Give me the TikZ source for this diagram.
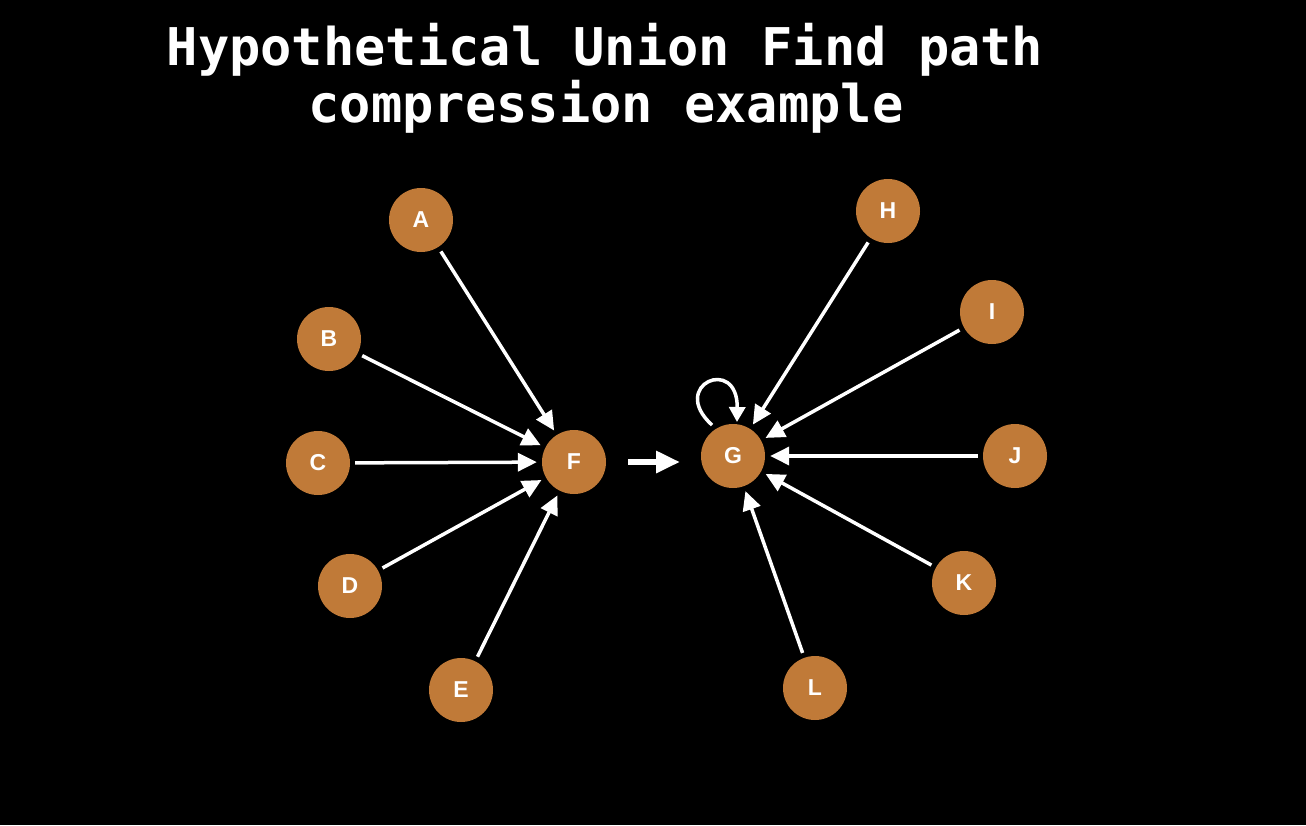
\documentclass[tikz,border=0pt]{standalone}
\usepackage{fontspec}
\setmainfont{Liberation Sans}
\newfontfamily\titlefont{DejaVu Sans Mono}
\usetikzlibrary{arrows.meta}
\definecolor{nodeor}{HTML}{C07A38}
\tikzset{
  vtx/.style={circle, fill=nodeor, minimum size=64pt, inner sep=0pt,
    text=white, font=\fontsize{23}{23}\selectfont\bfseries},
  arr/.style={draw=white, line width=3.5pt,
    -{Triangle[length=19pt,width=18pt]}, shorten <=5pt, shorten >=5pt},
  looparr/.style={draw=white, line width=3.5pt,
    -{Triangle[length=15pt,width=16pt]}},
  bigarr/.style={draw=white, line width=6.5pt,
    -{Triangle[length=24pt,width=21pt]}},
  ttl/.style={text=white, anchor=base, inner sep=0pt,
    font=\titlefont\fontsize{52}{52}\selectfont\bfseries}
}
\begin{document}
\begin{tikzpicture}[x=1pt,y=-1pt]
\fill[black] (0,0) rectangle (1306,825);
\useasboundingbox (0,0) rectangle (1306,825);
\node[ttl] (t1) at (605,65) {Hypothetical Union Find path};
\node[ttl] (t2) at (606,122) {compression example};
\node[vtx] (A) at (421,220) {A};
\node[vtx] (B) at (329,339) {B};
\node[vtx] (C) at (318,463) {C};
\node[vtx] (D) at (350,586) {D};
\node[vtx] (E) at (461,690) {E};
\node[vtx] (F) at (574,462) {F};
\node[vtx] (G) at (733,456) {G};
\node[vtx] (H) at (888,211) {H};
\node[vtx] (I) at (992,312) {I};
\node[vtx] (J) at (1015,456) {J};
\node[vtx] (K) at (964,583) {K};
\node[vtx] (L) at (815,688) {L};
\foreach \s in {A,B,C,D,E} \draw[arr] (\s) -- (F);
\foreach \s in {H,I,J,K,L} \draw[arr] (\s) -- (G);
\coordinate (ls) at (712,425);
\coordinate (lt) at (737,422);
\draw[looparr] (ls) .. controls (668,385) and (738,355) .. (lt);
\coordinate (fs) at (628,462);
\coordinate (ft) at (680,462);
\draw[bigarr] (fs) -- (ft);
\end{tikzpicture}
\end{document}
